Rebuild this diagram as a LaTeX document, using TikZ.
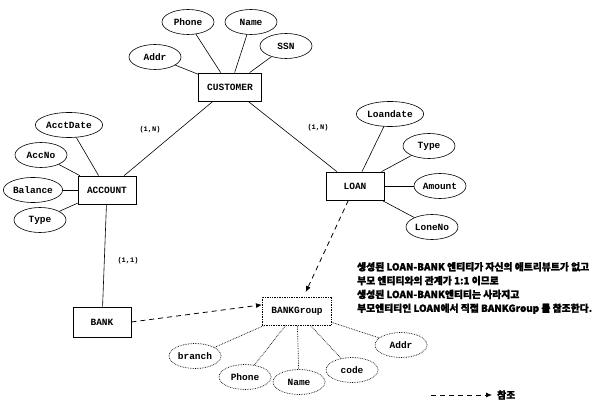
\documentclass[tikz,border=0pt]{standalone}
\usepackage{fontspec}
\setmonofont{Liberation Mono}
\newfontfamily\krfont{Noto Sans CJK KR}[BoldFeatures={FakeBold=1.5}]
\usetikzlibrary{arrows.meta,shapes.geometric}

\begin{document}
\begin{tikzpicture}[x=1pt,y=-1pt,
  font=\ttfamily\bfseries\fontsize{9.5}{11}\selectfont,
  >={Latex[length=6pt,width=5pt]},
  entity/.style={draw,line width=0.8pt,minimum width=58pt,minimum height=28pt,inner xsep=9pt},
  weakent/.style={entity,line width=0.7pt,densely dotted},
  attr/.style={draw,ellipse,line width=0.6pt,minimum width=52pt,minimum height=25pt,inner sep=1pt},
  wattr/.style={attr,line width=0.7pt,densely dotted},
  card/.style={font=\ttfamily\bfseries\fontsize{7}{8}\selectfont},
  link/.style={line width=0.6pt},
  wlink/.style={line width=0.7pt,densely dotted},
  refer/.style={->,line width=0.8pt,dash pattern=on 5pt off 4pt},
  note/.style={font=\krfont\bfseries\fontsize{9.8}{13.8}\selectfont}]
  \useasboundingbox (0,0) rectangle (594,403);
  % ---- entities
  \node[entity] (cust) at (230,87) {CUSTOMER};
  \node[entity] (acct) at (107,190) {ACCOUNT};
  \node[entity] (loan) at (355,186) {LOAN};
  \node[entity,minimum height=30pt] (bank) at (102,322) {BANK};
  \node[weakent] (bgrp) at (297,311) {BANKGroup};
  % ---- customer attributes
  \node[attr] (caddr) at (155,57) {Addr};
  \node[attr] (cphone) at (188,22) {Phone};
  \node[attr] (cname) at (251,22) {Name};
  \node[attr] (cssn) at (286,46) {SSN};
  \foreach \a in {caddr,cphone,cname,cssn} \draw[link] (\a) -- (cust);
  % ---- account attributes
  \node[attr] (adate) at (69,125) {AcctDate};
  \node[attr] (ano) at (41,155) {AccNo};
  \node[attr] (abal) at (33,190) {Balance};
  \node[attr] (atype) at (40,220) {Type};
  \foreach \a in {adate,ano,abal,atype} \draw[link] (\a) -- (acct);
  % ---- loan attributes
  \node[attr] (ldate) at (390,114) {Loandate};
  \node[attr] (ltype) at (429,146) {Type};
  \node[attr] (lamt) at (440,186) {Amount};
  \node[attr] (lno) at (432,227) {LoneNo};
  \foreach \a in {ldate,ltype,lamt,lno} \draw[link] (\a) -- (loan);
  % ---- bankgroup attributes
  \node[wattr] (gbranch) at (195,356) {branch};
  \node[wattr] (gphone) at (245,377) {Phone};
  \node[wattr] (gname) at (299,382) {Name};
  \node[wattr] (gcode) at (352,370) {code};
  \node[wattr] (gaddr) at (401,345) {Addr};
  \foreach \a in {gbranch,gphone,gname,gcode,gaddr} \draw[wlink] (\a) -- (bgrp);
  % ---- relationships
  \draw[link] (cust) -- (acct);
  \draw[link] (cust) -- (loan);
  \draw[link] (acct) -- (bank);
  \node[card] (c1) at (150,130) {(1,N)};
  \node[card] (c2) at (318,128) {(1,N)};
  \node[card] (c3) at (128,261) {(1,1)};
  \draw[refer] (bank.east) -- (bgrp.170);
  \draw[refer,shorten >=5pt] (loan) -- (bgrp);
  % ---- note and legend
  \node[note,anchor=north west,align=left,inner sep=0pt] (txt) at (357,262)
    {생성된 LOAN-BANK 엔티티가 자신의 애트리뷰트가 없고\\
     부모 엔티티와의 관계가 1:1 이므로\\
     생성된 LOAN-BANK엔티티는 사라지고\\
     부모엔티티인 LOAN에서 직접 BANKGroup 를 참조한다.};
  \node[note,anchor=west,inner sep=0pt] (legt) at (497,395) {참조};
  \coordinate (lega) at (431,395);
  \draw[refer] (lega) -- ([xshift=-5pt]legt.west);
\end{tikzpicture}
\end{document}
